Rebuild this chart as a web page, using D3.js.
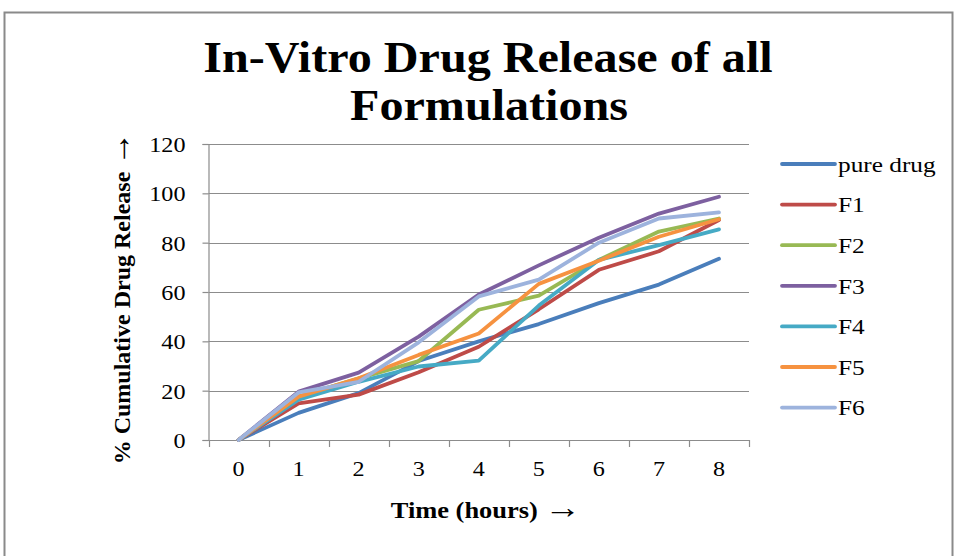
<!DOCTYPE html>
<html>
<head>
<meta charset="utf-8">
<script src="https://cdn.jsdelivr.net/npm/d3@7"></script>
<style>
  body { margin: 0; background: #fff; }
  svg { display: block; }
  svg text { font-family: "Liberation Serif", "Times New Roman", serif; }
</style>
</head>
<body>
<svg width="956" height="556"></svg>
<script>
// Data
const hours = [0, 1, 2, 3, 4, 5, 6, 7, 8];
const seriesNames = ["pure drug", "F1", "F2", "F3", "F4", "F5", "F6"];
const pureDrug = [0, 11, 19, 32, 40, 47, 55.5, 63, 73.5];
const f1 = [0, 14.8, 18.4, 27.5, 37.8, 53, 69, 76.5, 89.2];
const f2 = [0, 17.6, 25, 32, 52.8, 58.5, 73, 84.5, 89.8];
const f3 = [0, 19.6, 27.3, 41.9, 59, 70.8, 82, 91.8, 98.6];
const f4 = [0, 16.3, 23.6, 29.8, 32.2, 54.5, 73, 79, 85.4];
const f5 = [0, 17.6, 25, 34.5, 43.2, 63.3, 72.7, 82.4, 89.5];
const f6 = [0, 19.3, 23.6, 39.6, 58.2, 65, 80, 89.8, 92.3];
const yTicks = [0, 20, 40, 60, 80, 100, 120];

const colors = ["#4a7ebb", "#be4b48", "#98b954", "#7d60a0", "#46aac5", "#f69240", "#9db3dd"];
const allSeries = [pureDrug, f1, f2, f3, f4, f5, f6];

const svg = d3.select("svg");
const stretch = 1.15; // reference text looks horizontally stretched

// outer frame
svg.append("rect")
  .attr("x", 4.5).attr("y", 12.5)
  .attr("width", 948).attr("height", 570)
  .attr("fill", "none").attr("stroke", "#8a8a8a").attr("stroke-width", 2);

// plot area
const plot = { left: 208.5, right: 749, top: 144, bottom: 440 };
const x = d3.scaleBand().domain(hours).range([plot.left, plot.right]).padding(0);
const y = d3.scaleLinear().domain([0, 120]).range([plot.bottom, plot.top]);
const cx = d => x(d) + x.bandwidth() / 2;

// gridlines
svg.append("g").selectAll("line")
  .data(yTicks.filter(d => d > 0))
  .join("line")
  .attr("x1", plot.left).attr("x2", plot.right)
  .attr("y1", d => Math.round(y(d)) + 0.5).attr("y2", d => Math.round(y(d)) + 0.5)
  .attr("stroke", "#8c8c8c").attr("stroke-width", 1.2);

// y axis
const yAxis = svg.append("g")
  .attr("transform", `translate(${plot.left},0)`)
  .call(d3.axisLeft(y).tickValues(yTicks).tickSize(6).tickPadding(0).tickFormat(d3.format("d")));
yAxis.attr("font-family", null);
yAxis.select(".domain").attr("stroke", "#8c8c8c").attr("stroke-width", 1.2);
yAxis.selectAll(".tick line").attr("stroke", "#8c8c8c").attr("stroke-width", 1.2);
yAxis.selectAll(".tick text").remove();
yAxis.selectAll(".tick").append("text")
  .attr("transform", `translate(-23,0) scale(${stretch},1)`)
  .attr("text-anchor", "end")
  .attr("dy", "0.35em")
  .attr("fill", "#000")
  .style("font-size", "21px")
  .text(d => d);

// x axis: boundary ticks + centered labels
const xAxis = svg.append("g").attr("transform", `translate(0,${plot.bottom})`);
xAxis.append("line")
  .attr("x1", plot.left).attr("x2", plot.right).attr("y1", 0.5).attr("y2", 0.5)
  .attr("stroke", "#8c8c8c").attr("stroke-width", 1.2);
xAxis.selectAll(".xt")
  .data(hours.map(d => x(d)).concat([x.range()[1]]))
  .join("line")
  .attr("class", "xt")
  .attr("x1", d => Math.round(d) + 0.5).attr("x2", d => Math.round(d) + 0.5)
  .attr("y1", 0).attr("y2", 7)
  .attr("stroke", "#8c8c8c").attr("stroke-width", 1.2);
xAxis.selectAll(".xl")
  .data(hours)
  .join("text")
  .attr("class", "xl")
  .attr("transform", d => `translate(${cx(d)},36) scale(${stretch},1)`)
  .attr("text-anchor", "middle")
  .style("font-size", "21px")
  .text(d => d);

// lines
const line = d3.line().x((d, i) => cx(hours[i])).y(d => y(d));
svg.append("g").selectAll("path")
  .data(allSeries)
  .join("path")
  .attr("d", d => line(d))
  .attr("fill", "none")
  .attr("stroke", (d, i) => colors[i])
  .attr("stroke-width", 3.8)
  .attr("stroke-linejoin", "round")
  .attr("stroke-linecap", "round");

// title
const title = svg.append("g").style("font-weight", "bold").style("font-size", "45px");
title.append("text")
  .attr("transform", `translate(488,72) scale(${stretch * 0.93},1)`)
  .attr("text-anchor", "middle")
  .text("In-Vitro Drug Release of all");
title.append("text")
  .attr("transform", `translate(489,120) scale(${stretch * 0.93},1)`)
  .attr("text-anchor", "middle")
  .text("Formulations");

// axis titles
const yTitle = svg.append("text")
  .attr("transform", "translate(130,298) rotate(-90)")
  .attr("text-anchor", "middle")
  .style("font-weight", "bold")
  .style("font-size", "24px");
yTitle.append("tspan").text("% Cumulative Drug Release ");
yTitle.append("tspan").style("font-size", "34px").style("font-weight", "normal").text("\u2192");

const xTitle = svg.append("text")
  .attr("transform", `translate(486,518) scale(${stretch},1)`)
  .attr("text-anchor", "middle")
  .style("font-weight", "bold")
  .style("font-size", "23px");
xTitle.append("tspan").text("Time (hours) ");
xTitle.append("tspan").style("font-size", "32px").style("font-weight", "normal").text("\u2192");

// legend
const legend = svg.append("g").attr("transform", "translate(782,164)");
const rows = legend.selectAll("g")
  .data(seriesNames)
  .join("g")
  .attr("transform", (d, i) => `translate(0,${i * 40.6})`);
rows.append("line")
  .attr("x1", 0).attr("x2", 53).attr("y1", 0).attr("y2", 0)
  .attr("stroke", (d, i) => colors[i])
  .attr("stroke-width", 3.8)
  .attr("stroke-linecap", "round");
rows.append("text")
  .attr("transform", `translate(56,0) scale(${stretch},1)`)
  .attr("dy", "0.35em")
  .style("font-size", "22px")
  .text(d => d);
</script>
</body>
</html>
